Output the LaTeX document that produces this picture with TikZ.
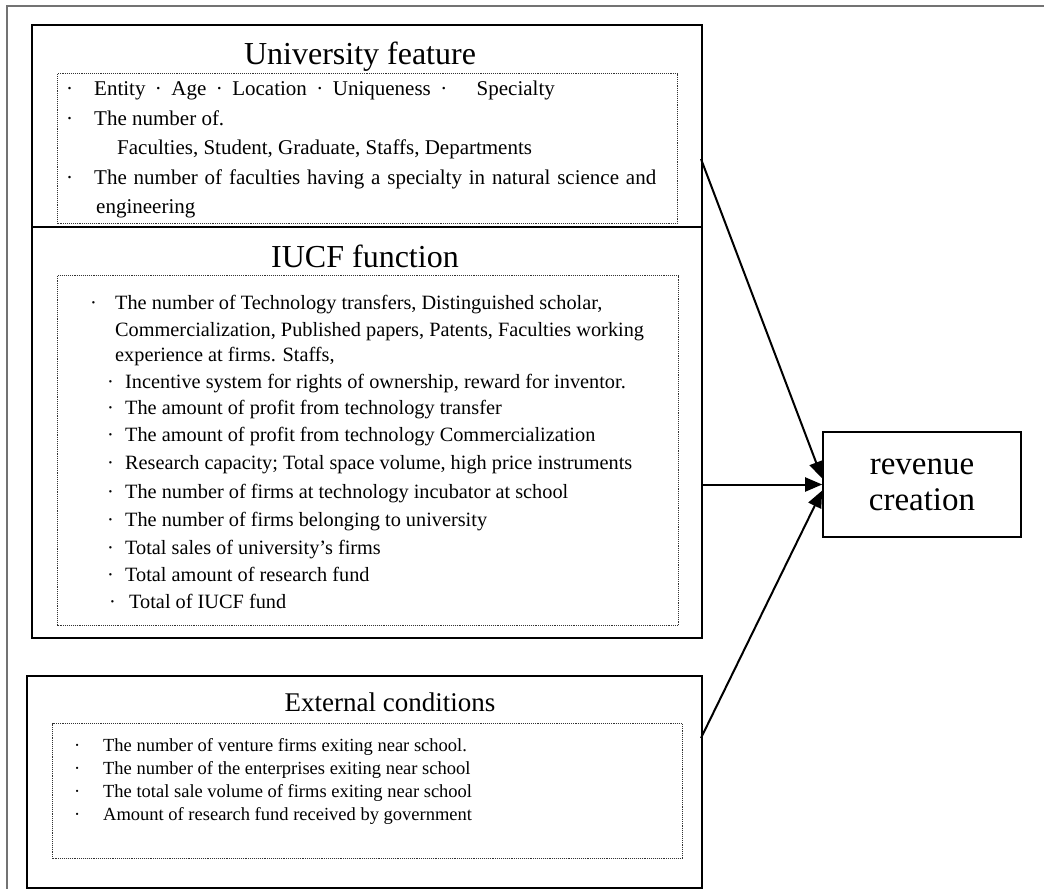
\documentclass[tikz,border=0pt]{standalone}
\usepackage{fontspec}
\setmainfont{Liberation Serif}
\usetikzlibrary{arrows.meta,positioning}

\newcommand{\itemdot}[1]{\makebox[#1][l]{·}}

\tikzset{
	mainbox/.style={draw=black, line width=2.2pt, anchor=north west, inner sep=0pt},
	dotbox/.style={draw=black!80, dash pattern=on 1pt off 0.9pt, line width=1.2pt, anchor=north west, inner sep=0pt},
	boxtitle/.style={anchor=base, inner sep=0pt, font=\fontsize{32}{36}\selectfont},
	ufline/.style={anchor=base west, inner sep=0pt, font=\fontsize{21}{29}\selectfont},
	iuline/.style={anchor=base west, inner sep=0pt, font=\fontsize{20.3}{27}\selectfont},
	exline/.style={anchor=base west, inner sep=0pt, font=\fontsize{18.5}{23}\selectfont},
	revbox/.style={draw=black, line width=1.6pt, minimum width=198pt, minimum height=105pt, align=center, font=\fontsize{33}{36}\selectfont},
	conn/.style={line width=2pt, -{Triangle[length=17pt,width=14pt]}}
}

\begin{document}
\begin{tikzpicture}[x=1pt, y=-1pt]
				\useasboundingbox (0,0) rectangle (1044,889);
				\draw[black!55, line width=1.5pt] (1044,6) -- (7,6) -- (7,889);

				\node[mainbox, minimum width=670pt, minimum height=202pt] (uf) at (31,24) {};
				\node[mainbox, minimum width=670pt, minimum height=411pt] (iucf) at (31,226) {};
				\node[mainbox, minimum width=675pt, minimum height=212pt] (ext) at (26,675) {};

				\node[dotbox, minimum width=620pt, minimum height=150pt] (ufdots) at (57,73) {};
				\node[dotbox, minimum width=621pt, minimum height=350pt] (iucfdots) at (57,275) {};
				\node[dotbox, minimum width=630pt, minimum height=135pt] (extdots) at (52,723) {};

				\node[boxtitle] (uftitle) at (360,64) {University feature};
				\node[boxtitle] (iucftitle) at (365,267) {IUCF function};
				\node[boxtitle, font=\fontsize{27}{32}\selectfont] (exttitle) at (390,711) {External conditions};

				\node[ufline] (uf1) at (66,95) {\itemdot{28pt}Entity\hspace{0.45em}·\hspace{0.45em}Age\hspace{0.45em}·\hspace{0.45em}Location\hspace{0.45em}·\hspace{0.45em}Uniqueness\hspace{0.45em}·\hspace{1.4em}Specialty};
				\node[ufline] (uf2) at (66,125) {\itemdot{28pt}The number of.};
				\node[ufline] (uf3) at (117,154) {Faculties, Student, Graduate, Staffs, Departments};
				\node[ufline] (uf4) at (66,184) {\itemdot{28pt}\makebox[562pt][s]{The number of faculties having a specialty in natural science and}};
				\node[ufline] (uf5) at (96,213) {engineering};

				\node[iuline] (iu1) at (90,309) {\itemdot{25pt}The number of Technology transfers, Distinguished scholar,};
				\node[iuline] (iu2) at (115,336) {Commercialization, Published papers, Patents, Faculties working};
				\node[iuline] (iu3) at (115,361) {experience at firms. Staffs,};
				\foreach \yy/\txt [count=\i from 4] in {
					388/{Incentive system for rights of ownership, reward for inventor.},
					414/{The amount of profit from technology transfer},
					441/{The amount of profit from technology Commercialization},
					469/{Research capacity; Total space volume, high price instruments},
					498/{The number of firms at technology incubator at school},
					526/{The number of firms belonging to university},
					554/{Total sales of university’s firms},
					581/{Total amount of research fund}}
					\node[iuline] (iu\i) at (107,\yy) {\itemdot{18pt}\txt};
				\node[iuline] (iu12) at (109,608) {\itemdot{20pt}Total of IUCF fund};

				\foreach \yy/\txt [count=\i] in {
					751/{The number of venture firms exiting near school.},
					774/{The number of the enterprises exiting near school},
					797/{The total sale volume of firms exiting near school},
					820/{Amount of research fund received by government}}
					\node[exline] (ex\i) at (74,\yy) {\itemdot{29pt}\txt};

				\node[revbox] (rev) at (922,484.5) {revenue\\creation};

				\coordinate (ufout) at (701,159);
				\coordinate (extout) at (701,738);
				\draw[conn] (ufout) -- ([yshift=6pt]rev.west);
				\draw[conn] (iucf.east |- rev.west) -- (rev.west);
				\draw[conn] (extout) -- ([yshift=-6pt]rev.west);
			\end{tikzpicture}
\end{document}
